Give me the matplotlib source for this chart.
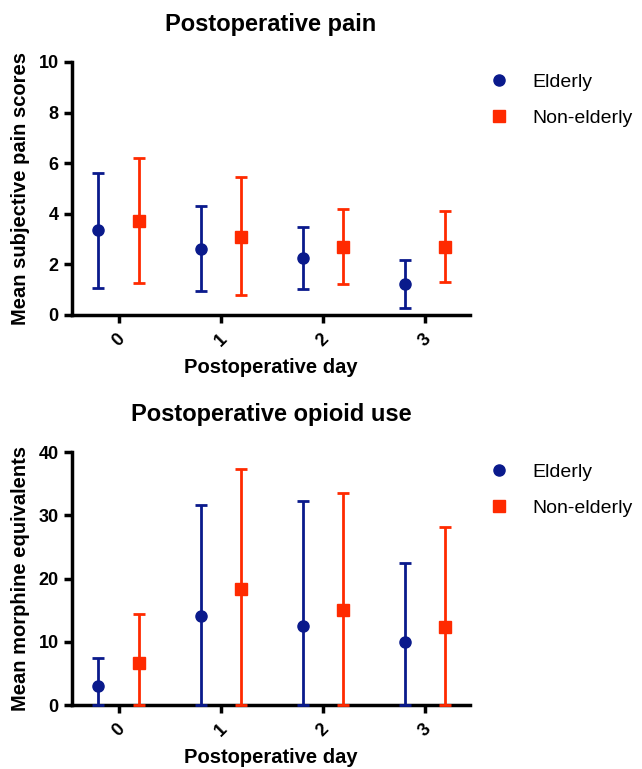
import matplotlib
matplotlib.use("Agg")
import matplotlib.pyplot as plt
import numpy as np

plt.rcParams["font.family"] = ["Liberation Sans", "DejaVu Sans"]

BLUE = "#0a1a8c"
RED = "#ff2a00"

days = [0, 1, 2, 3]

# Postoperative pain (mean, lower, upper)
pain_eld_mean = [3.36, 2.62, 2.25, 1.21]
pain_eld_low = [1.07, 0.96, 1.03, 0.26]
pain_eld_high = [5.60, 4.32, 3.49, 2.17]
pain_non_mean = [3.70, 3.10, 2.70, 2.70]
pain_non_low = [1.26, 0.79, 1.22, 1.32]
pain_non_high = [6.20, 5.47, 4.20, 4.11]

# Postoperative opioid use (mean, lower, upper)
op_eld_mean = [3.05, 14.05, 12.5, 10.0]
op_eld_low = [0.0, 0.0, 0.0, 0.0]
op_eld_high = [7.47, 31.7, 32.2, 22.4]
op_non_mean = [6.58, 18.4, 15.0, 12.4]
op_non_low = [0.0, 0.0, 0.0, 0.0]
op_non_high = [14.37, 37.3, 33.5, 28.1]

fig = plt.figure(figsize=(6.42, 7.69), dpi=100)
ax1 = fig.add_axes([0.112, 0.5904, 0.62, 0.329])
ax2 = fig.add_axes([0.112, 0.0832, 0.62, 0.329])


def panel(ax, title, ylabel, ymax, ystep, e_m, e_l, e_h, n_m, n_l, n_h):
    x = np.array(days, dtype=float)
    e_m, e_l, e_h = map(np.array, (e_m, e_l, e_h))
    n_m, n_l, n_h = map(np.array, (n_m, n_l, n_h))
    ax.errorbar(x - 0.2, e_m, yerr=[e_m - e_l, e_h - e_m], fmt="o", color=BLUE,
                ms=8, lw=2, capsize=4.5, capthick=2, label="Elderly", clip_on=False,
                zorder=3)
    ax.errorbar(x + 0.2, n_m, yerr=[n_m - n_l, n_h - n_m], fmt="s", color=RED,
                ms=8, lw=2, capsize=4.5, capthick=2, label="Non-elderly", clip_on=False,
                zorder=3)
    ax.set_xlim(-0.46, 3.44)
    ax.set_ylim(0, ymax)
    ax.set_yticks(np.arange(0, ymax + 0.1, ystep))
    ax.set_xticks(days)
    ax.set_xticklabels([str(d) for d in days], rotation=45, ha="center", va="top")
    for s in ["top", "right"]:
        ax.spines[s].set_visible(False)
    for s in ["left", "bottom"]:
        ax.spines[s].set_linewidth(2.5)
    ax.tick_params(width=2.5, length=6, labelsize=13)
    ax.tick_params(axis="x", pad=5)
    for lab in ax.get_xticklabels() + ax.get_yticklabels():
        lab.set_fontweight("bold")
    ax.set_xlabel("Postoperative day", fontsize=14.5, fontweight="bold", labelpad=6)
    ax.set_ylabel(ylabel, fontsize=14.5, fontweight="bold", labelpad=6)
    ax.set_title(title, fontsize=17, fontweight="bold", pad=22)
    h, l = ax.get_legend_handles_labels()
    h = [hh[0] for hh in h]
    ax.legend(h, l, loc="upper left", bbox_to_anchor=(0.98, 1.025), frameon=False,
              fontsize=14, handletextpad=0.7, labelspacing=0.95)


panel(ax1, "Postoperative pain", "Mean subjective pain scores", 10, 2,
      pain_eld_mean, pain_eld_low, pain_eld_high,
      pain_non_mean, pain_non_low, pain_non_high)
panel(ax2, "Postoperative opioid use", "Mean morphine equivalents", 40, 10,
      op_eld_mean, op_eld_low, op_eld_high,
      op_non_mean, op_non_low, op_non_high)

fig.savefig("out.png", dpi=100)
